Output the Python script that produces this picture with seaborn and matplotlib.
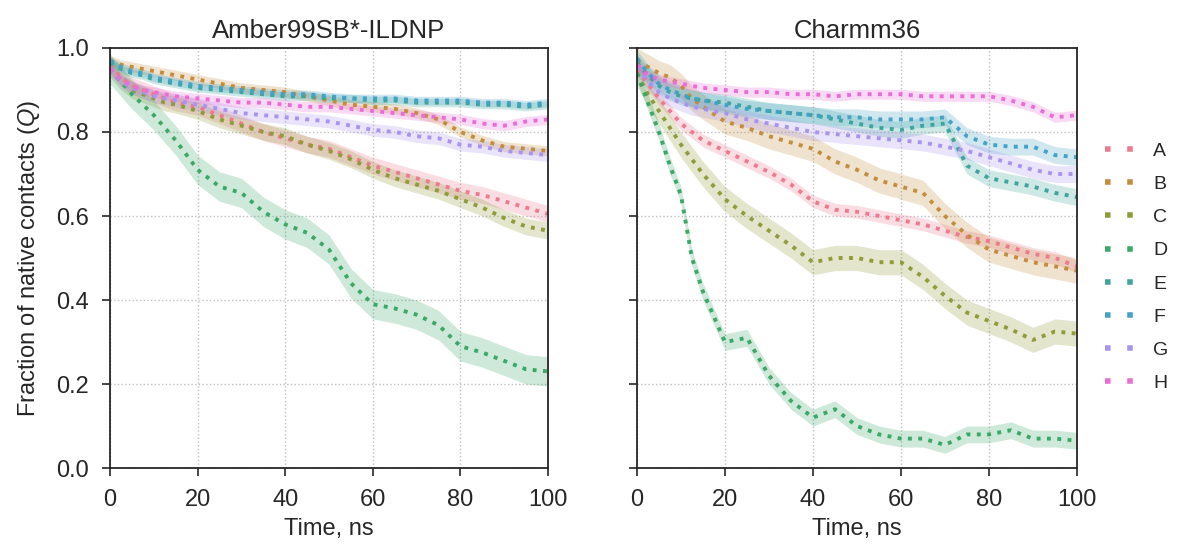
import numpy as np
import pandas as pd
import matplotlib
matplotlib.use("Agg")
import matplotlib.pyplot as plt
import seaborn as sns

# time grid (ns) and fraction of native contacts
time_ns = [0, 2.5, 5, 7.5, 10, 12.5, 15, 20, 25, 30, 35, 40, 45, 50, 55, 60, 65, 70, 75, 80, 85, 90, 95, 100]
systems = ["A", "B", "C", "D", "E", "F", "G", "H"]

amber_q = {
    "A": [0.96, 0.93, 0.91, 0.90, 0.89, 0.88, 0.87, 0.86, 0.84, 0.82, 0.80, 0.785, 0.77, 0.76, 0.74, 0.72, 0.705, 0.69, 0.675, 0.66, 0.65, 0.635, 0.62, 0.605],
    "B": [0.97, 0.96, 0.955, 0.95, 0.945, 0.94, 0.935, 0.925, 0.915, 0.905, 0.90, 0.895, 0.885, 0.875, 0.865, 0.86, 0.855, 0.845, 0.83, 0.80, 0.78, 0.765, 0.76, 0.755],
    "C": [0.95, 0.92, 0.90, 0.89, 0.88, 0.87, 0.865, 0.85, 0.83, 0.815, 0.80, 0.79, 0.77, 0.755, 0.735, 0.71, 0.69, 0.675, 0.66, 0.64, 0.62, 0.595, 0.575, 0.565],
    "D": [0.95, 0.92, 0.89, 0.865, 0.84, 0.81, 0.78, 0.71, 0.67, 0.655, 0.61, 0.58, 0.56, 0.52, 0.44, 0.39, 0.38, 0.365, 0.34, 0.29, 0.275, 0.255, 0.235, 0.23],
    "E": [0.965, 0.95, 0.94, 0.935, 0.925, 0.92, 0.915, 0.905, 0.90, 0.895, 0.89, 0.885, 0.885, 0.88, 0.88, 0.875, 0.875, 0.87, 0.87, 0.87, 0.865, 0.865, 0.86, 0.865],
    "F": [0.97, 0.955, 0.945, 0.94, 0.93, 0.925, 0.92, 0.91, 0.905, 0.90, 0.895, 0.89, 0.89, 0.885, 0.88, 0.88, 0.88, 0.875, 0.875, 0.875, 0.87, 0.87, 0.865, 0.87],
    "G": [0.95, 0.92, 0.905, 0.895, 0.885, 0.88, 0.875, 0.865, 0.855, 0.845, 0.84, 0.835, 0.83, 0.825, 0.815, 0.805, 0.80, 0.79, 0.785, 0.77, 0.765, 0.755, 0.75, 0.745],
    "H": [0.95, 0.925, 0.91, 0.90, 0.895, 0.89, 0.885, 0.88, 0.875, 0.87, 0.87, 0.865, 0.86, 0.86, 0.855, 0.85, 0.845, 0.84, 0.835, 0.83, 0.82, 0.815, 0.825, 0.83],
}

charmm_q = {
    "A": [0.95, 0.915, 0.88, 0.85, 0.82, 0.80, 0.78, 0.755, 0.73, 0.705, 0.675, 0.635, 0.615, 0.61, 0.60, 0.59, 0.58, 0.565, 0.55, 0.54, 0.525, 0.51, 0.50, 0.48],
    "B": [0.97, 0.955, 0.94, 0.93, 0.91, 0.88, 0.86, 0.825, 0.81, 0.79, 0.775, 0.76, 0.73, 0.71, 0.685, 0.67, 0.655, 0.60, 0.555, 0.52, 0.505, 0.49, 0.48, 0.47],
    "C": [0.94, 0.89, 0.85, 0.81, 0.77, 0.735, 0.70, 0.64, 0.60, 0.565, 0.53, 0.49, 0.50, 0.50, 0.49, 0.49, 0.455, 0.41, 0.37, 0.35, 0.33, 0.305, 0.325, 0.32],
    "D": [0.94, 0.87, 0.80, 0.72, 0.65, 0.50, 0.42, 0.30, 0.31, 0.22, 0.16, 0.12, 0.14, 0.10, 0.08, 0.07, 0.07, 0.055, 0.08, 0.08, 0.09, 0.07, 0.07, 0.065],
    "E": [0.965, 0.935, 0.91, 0.895, 0.885, 0.88, 0.875, 0.87, 0.86, 0.85, 0.845, 0.84, 0.83, 0.82, 0.81, 0.805, 0.815, 0.82, 0.72, 0.69, 0.68, 0.67, 0.655, 0.645],
    "F": [0.975, 0.94, 0.915, 0.90, 0.89, 0.88, 0.875, 0.865, 0.855, 0.85, 0.845, 0.84, 0.835, 0.835, 0.83, 0.83, 0.83, 0.835, 0.79, 0.77, 0.765, 0.765, 0.745, 0.74],
    "G": [0.955, 0.92, 0.895, 0.88, 0.87, 0.86, 0.855, 0.845, 0.83, 0.82, 0.81, 0.80, 0.795, 0.79, 0.785, 0.78, 0.775, 0.765, 0.755, 0.74, 0.725, 0.71, 0.70, 0.70],
    "H": [0.96, 0.935, 0.925, 0.92, 0.915, 0.91, 0.905, 0.90, 0.895, 0.895, 0.89, 0.89, 0.885, 0.89, 0.89, 0.89, 0.885, 0.885, 0.885, 0.885, 0.875, 0.86, 0.835, 0.84],
}

# half width of the shaded band per system
amber_err = [0.02, 0.012, 0.02, 0.035, 0.01, 0.01, 0.015, 0.012]
charmm_err = [0.015, 0.03, 0.03, 0.02, 0.02, 0.02, 0.02, 0.012]

panels = [("Amber99SB*-ILDNP", amber_q, amber_err), ("Charmm36", charmm_q, charmm_err)]

sns.set_style("ticks")
plt.rcParams["font.family"] = ["Liberation Sans", "DejaVu Sans"]
plt.rcParams["mathtext.fontset"] = "custom"
plt.rcParams["mathtext.it"] = "Liberation Sans:italic"

pal = sns.color_palette("husl", len(systems), desat=0.85)

fig = plt.figure(figsize=(11.87, 5.51), dpi=100)
ax1 = fig.add_axes([0.0927, 0.1506, 0.369, 0.7623])
ax2 = fig.add_axes([0.5366, 0.1506, 0.3707, 0.7623], sharey=ax1)

for ax, (title, qdict, err) in zip([ax1, ax2], panels):
    rows = []
    for s in systems:
        for t, q in zip(time_ns, qdict[s]):
            rows.append({"time": t, "Q": q, "system": s})
    df = pd.DataFrame(rows)
    for i, s in enumerate(systems):
        q = np.array(qdict[s])
        ax.fill_between(time_ns, q - err[i], q + err[i], color=pal[i], alpha=0.25, lw=0)
    sns.lineplot(data=df, x="time", y="Q", hue="system", hue_order=systems, palette=pal,
                 ax=ax, linestyle=":", linewidth=2.8, legend=False)
    ax.set_title(title, fontsize=18.5, pad=7)
    ax.set_xlim(0, 100)
    ax.set_ylim(0, 1)
    ax.set_xticks([0, 20, 40, 60, 80, 100])
    ax.set_yticks([0.0, 0.2, 0.4, 0.6, 0.8, 1.0])
    ax.set_xlabel("Time, ns", fontsize=17, labelpad=5)
    ax.grid(True, linestyle=":", color="0.75", linewidth=1)
    ax.tick_params(labelsize=17, length=6, width=1.2, direction="out", pad=9)
    for sp in ax.spines.values():
        sp.set_linewidth(1.3)
        sp.set_color("0.15")

ax1.set_ylabel(r"Fraction of native contacts ($\mathit{Q}$)", fontsize=17, labelpad=10)
ax2.set_ylabel("")
ax2.tick_params(labelleft=False)

handles = [plt.Line2D([], [], color=pal[i], linestyle=(0, (1, 3)), linewidth=4) for i in range(len(systems))]
fig.legend(handles, systems, loc="center left", bbox_to_anchor=(0.916, 0.515), frameon=False,
           fontsize=14, handlelength=2.0, labelspacing=0.8, handletextpad=0.5)

fig.savefig("out.png", dpi=100)
